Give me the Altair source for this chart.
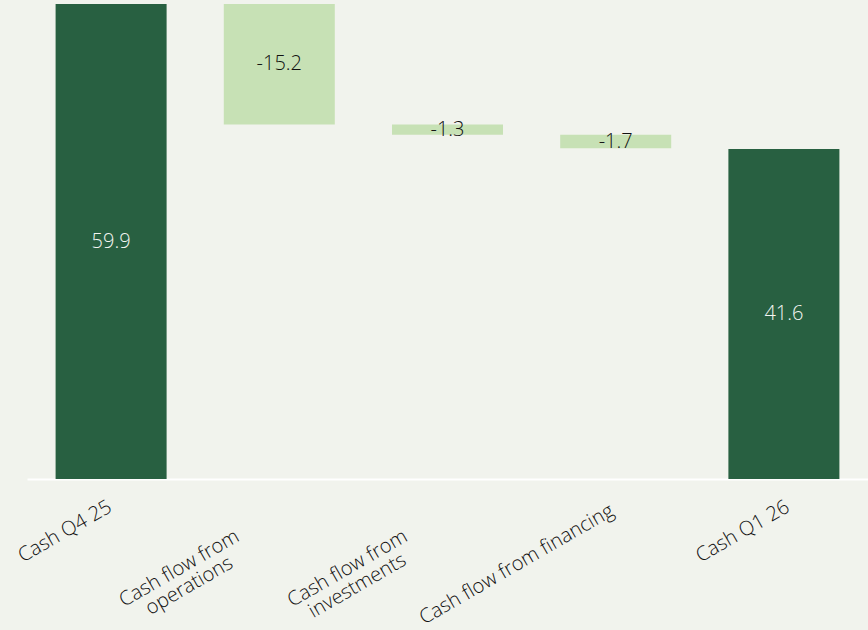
import altair as alt
import pandas as pd

categories = ["Cash Q4 25", "Cash flow from operations", "Cash flow from investments",
              "Cash flow from financing", "Cash Q1 26"]
values = [59.9, -15.2, -1.3, -1.7, 41.6]
kinds = ["total", "delta", "delta", "delta", "total"]

# waterfall start/end derived from the values
starts, ends = [], []
running = 0.0
for v, k in zip(values, kinds):
    if k == "total":
        starts.append(0.0)
        ends.append(v)
        running = v
    else:
        starts.append(running)
        ends.append(running + v)
        running = running + v

df = pd.DataFrame({"cat": categories, "value": values, "kind": kinds,
                   "start": starts, "end": ends})
df["mid"] = (df["start"] + df["end"]) / 2
df["label"] = df["value"].map(lambda v: f"{v:.1f}")

BG = "#f1f3ed"
DARK = "#286041"
LIGHT = "#c7e1b5"
FONT = "Open Sans"

# label block placement (offset along axis, distance below axis)
lab_off = {"Cash Q4 25": (-46, 52), "Cash flow from operations": (-100, 89),
           "Cash flow from investments": (-100, 89), "Cash flow from financing": (-99, 85),
           "Cash Q1 26": (-41, 52)}
off_expr = " : ".join(f"datum.value == '{k}' ? {v[0]}" for k, v in lab_off.items()) + " : 0"
pad_expr = " : ".join(f"datum.value == '{k}' ? {v[1]}" for k, v in lab_off.items()) + " : 0"

x = alt.X("cat:N", sort=categories, title=None,
          scale=alt.Scale(paddingInner=0.34, paddingOuter=0.17),
          axis=alt.Axis(domainColor="white", domainWidth=2, ticks=False, tickSize=0,
                        grid=False, labelAngle=-30, labelAlign="center",
                        labelBaseline="middle", labelFont=FONT, labelFontSize=20,
                        labelFontWeight=300, labelColor="#111111", labelLimit=400,
                        labelOverlap=False, labelLineHeight=20,
                        labelOffset={"expr": off_expr},
                        labelPadding={"expr": pad_expr},
                        labelExpr="indexof(datum.label, 'operations') >= 0 || indexof(datum.label, 'investments') >= 0 ? ['Cash flow from', replace(datum.label, 'Cash flow from ', '')] : datum.label"))

yscale = alt.Scale(domain=[0, 59.9], nice=False)

bars = alt.Chart(df).mark_bar().encode(
    x=x,
    y=alt.Y("start:Q", scale=yscale, axis=None),
    y2="end:Q",
    color=alt.Color("kind:N", scale=alt.Scale(domain=["total", "delta"], range=[DARK, LIGHT]),
                    legend=None),
)

text = alt.Chart(df).mark_text(font=FONT, fontSize=20, fontWeight=300,
                               baseline="middle", align="center").encode(
    x=alt.X("cat:N", sort=categories),
    y=alt.Y("mid:Q", scale=yscale),
    text="label:N",
    color=alt.Color("kind:N", scale=alt.Scale(domain=["total", "delta"],
                                              range=["#f4f6f2", "#111111"]), legend=None),
)

chart = alt.layer(bars, text).resolve_scale(color="independent").properties(
    width=841, height=475, background=BG,
    padding={"left": 27, "top": 4, "right": 0, "bottom": 151},
    autosize=alt.AutoSizeParams(type="none"),
).configure_view(stroke=None)

chart.save("out.html", embed_options={"renderer": "svg", "actions": False})
